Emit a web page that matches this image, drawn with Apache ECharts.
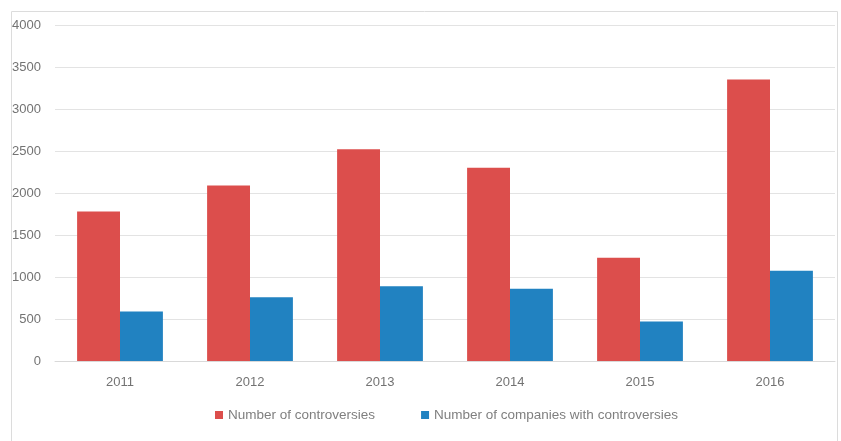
<!DOCTYPE html>
<html>
<head>
<meta charset="utf-8">
<script src="https://cdn.jsdelivr.net/npm/echarts@6/dist/echarts.min.js"></script>
<style>html,body{margin:0;padding:0;background:#fff}#c{width:841px;height:441px}</style>
</head>
<body>
<div id="c"></div>
<script>
const categories = ['2011', '2012', '2013', '2014', '2015', '2016'];
const controversies = [1780, 2090, 2520, 2300, 1230, 3350];
const companies = [590, 760, 890, 860, 470, 1075];
const yTicks = [0, 500, 1000, 1500, 2000, 2500, 3000, 3500, 4000];

const chart = echarts.init(document.getElementById('c'));
const font = 'Liberation Sans, Arial, sans-serif';
chart.setOption({
  animation: false,
  graphic: [{
    type: 'rect', shape: {x: 11.5, y: 11.5, width: 826, height: 440},
    style: {fill: 'none', stroke: '#dcdcdc', lineWidth: 1}, silent: true
  }],
  grid: {left: 55, right: 6, top: 25, bottom: 80, containLabel: false},
  legend: {
    bottom: 14, left: 210, itemWidth: 8, itemHeight: 8, itemGap: 46,
    icon: 'rect',
    textStyle: {color: '#7f7f7f', fontSize: 13.5, fontFamily: font},
    data: ['Number of controversies', 'Number of companies with controversies']
  },
  xAxis: {
    type: 'category', data: categories,
    axisLine: {lineStyle: {color: '#d9d9d9'}},
    axisTick: {show: false},
    axisLabel: {color: '#737373', fontSize: 13, fontFamily: font, margin: 15}
  },
  yAxis: {
    type: 'value', min: yTicks[0], max: yTicks[yTicks.length - 1], interval: 500,
    axisLine: {show: false}, axisTick: {show: false},
    splitLine: {lineStyle: {color: '#e3e3e3'}},
    axisLabel: {color: '#737373', fontSize: 13, fontFamily: font, margin: 14,
                formatter: v => String(v)}
  },
  series: [
    {name: 'Number of controversies', type: 'bar', data: controversies,
     itemStyle: {color: '#dc4e4c'}, barWidth: '33%', barGap: '0%'},
    {name: 'Number of companies with controversies', type: 'bar', data: companies,
     itemStyle: {color: '#2182c1'}, barWidth: '33%', barGap: '0%'}
  ]
});
</script>
</body>
</html>
